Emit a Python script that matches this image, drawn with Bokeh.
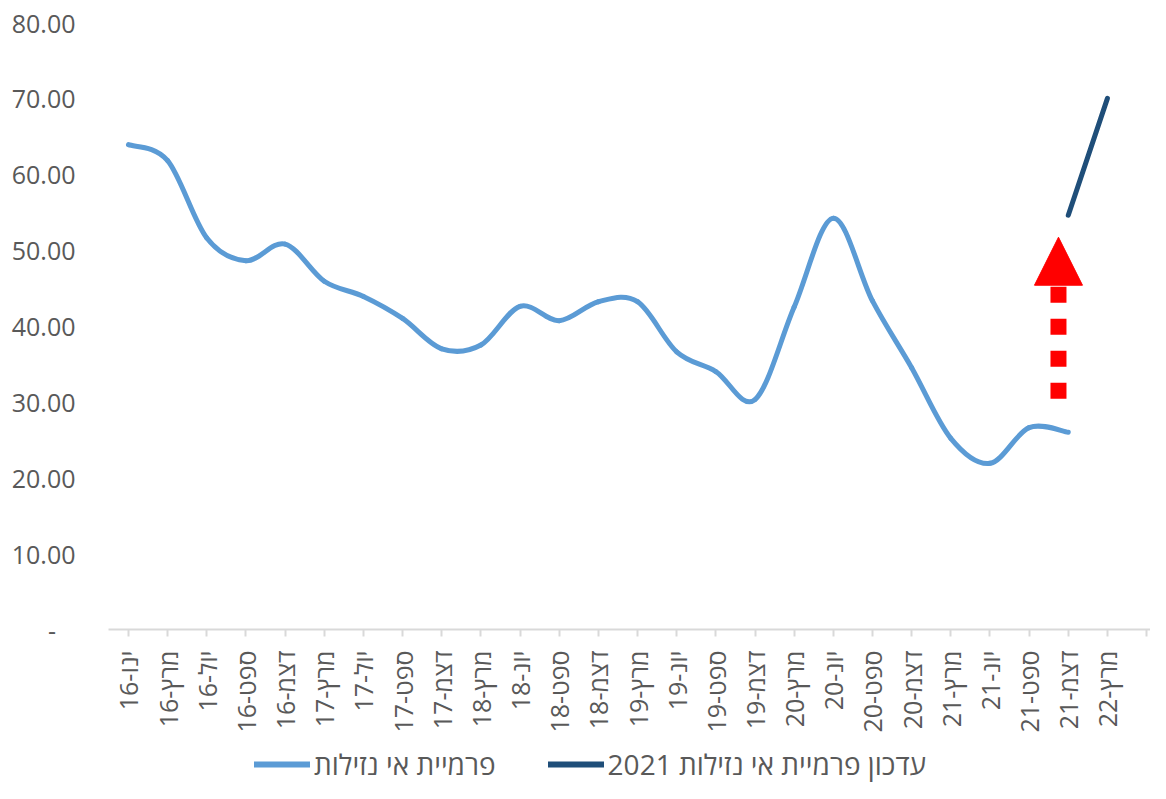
import math
from bokeh.plotting import figure
from bokeh.layouts import column
from bokeh.models import Legend, LegendItem, Arrow, NormalHead, FixedTicker, ColumnDataSource
from bokeh.embed import file_html
from bokeh.resources import INLINE

# ---- data ----
categories = ["16-ינו", "16-מרץ", "16-יול", "16-ספט", "16-דצמ",
              "17-מרץ", "17-יול", "17-ספט", "17-דצמ",
              "18-מרץ", "18-יונ", "18-ספט", "18-דצמ",
              "19-מרץ", "19-יונ", "19-ספט", "19-דצמ",
              "20-מרץ", "20-יונ", "20-ספט", "20-דצמ",
              "21-מרץ", "21-יונ", "21-ספט", "21-דצמ",
              "22-מרץ"]
premium = [63.9, 61.8, 51.6, 48.6, 50.8, 45.9, 43.9, 41.0, 37.0, 37.5, 42.6, 40.7, 43.2,
           43.2, 36.6, 34.0, 30.3, 42.5, 54.2, 43.3, 34.5, 25.2, 21.9, 26.6, 26.0]
update_2021 = [54.6, 70.0]
update_idx = [24, 25]
y_ticks = [0, 10, 20, 30, 40, 50, 60, 70, 80]
arrow_x = 23.75
arrow_from = 30.4
arrow_to = 51.7

series1_label = "פרמיית אי נזילות"
series2_label = "2021 עדכון פרמיית אי נזילות"

FONT = "Open Sans"
GRAY = "#595959"
LIGHT = "#5B9BD5"
DARK = "#1F4E79"

p = figure(width=1150, height=745, output_backend="svg", toolbar_location=None,
           x_range=(-0.51, 26.10), y_range=(0, 80),
           min_border_left=108, min_border_right=0, min_border_top=22,
           min_border_bottom=116)
p.outline_line_color = None
p.background_fill_color = "white"
p.border_fill_color = "white"
p.xgrid.grid_line_color = None
p.ygrid.grid_line_color = None

# smooth line (Excel-like smoothing through the data points)
xs = list(range(len(premium)))
n = len(premium)
x0, y0, x1, y1, cx0, cy0, cx1, cy1 = [], [], [], [], [], [], [], []
for i in range(n - 1):
    xm1, ym1 = (xs[i - 1], premium[i - 1]) if i > 0 else (xs[i], premium[i])
    xp2, yp2 = (xs[i + 2], premium[i + 2]) if i + 2 < n else (xs[i + 1], premium[i + 1])
    x0.append(xs[i]); y0.append(premium[i])
    x1.append(xs[i + 1]); y1.append(premium[i + 1])
    cx0.append(xs[i] + (xs[i + 1] - xm1) / 6.0)
    cy0.append(premium[i] + (premium[i + 1] - ym1) / 6.0)
    cx1.append(xs[i + 1] - (xp2 - xs[i]) / 6.0)
    cy1.append(premium[i + 1] - (yp2 - premium[i]) / 6.0)
src = ColumnDataSource(dict(x0=x0, y0=y0, x1=x1, y1=y1, cx0=cx0, cy0=cy0, cx1=cx1, cy1=cy1))
p.bezier(x0="x0", y0="y0", x1="x1", y1="y1", cx0="cx0", cy0="cy0", cx1="cx1", cy1="cy1",
         source=src, line_color=LIGHT, line_width=5, line_cap="round")

p.line(x=update_idx, y=update_2021, line_color=DARK, line_width=5, line_cap="round")

# red dashed arrow
arr = Arrow(end=NormalHead(size=48, fill_color="red", line_color="red", line_width=1),
            x_start=arrow_x, y_start=arrow_from, x_end=arrow_x, y_end=arrow_to,
            line_color="red", line_width=16, line_dash="16 16", line_cap="butt")
p.add_layout(arr)

# axes
xa = p.xaxis[0]
xa.ticker = FixedTicker(ticks=list(range(27)))
xa.major_label_overrides = {i: c for i, c in enumerate(categories)}
xa.major_label_overrides[26] = ""
xa.major_label_orientation = math.pi / 2
xa.axis_line_color = "#d9d9d9"
xa.axis_line_width = 2
xa.major_tick_line_color = "#d9d9d9"
xa.major_tick_line_width = 2
xa.major_tick_in = 0
xa.major_tick_out = 7
xa.minor_tick_line_color = None
xa.major_label_text_font = FONT
xa.major_label_text_font_size = "25px"
xa.major_label_text_color = GRAY
xa.major_label_standoff = 14

ya = p.yaxis[0]
ya.ticker = FixedTicker(ticks=y_ticks)
ya.major_label_overrides = {t: ("-\u00a0\u00a0\u00a0" if t == 0 else f"{t:.2f}") for t in y_ticks}
ya.axis_line_color = None
ya.major_tick_line_color = None
ya.minor_tick_line_color = None
ya.major_label_text_font = FONT
ya.major_label_text_font_size = "25px"
ya.major_label_text_color = GRAY
ya.major_label_standoff = 27

# legend strip (separate figure under the chart)
lg = figure(width=1150, height=38, output_backend="svg", toolbar_location=None,
            x_range=(0, 1), y_range=(0, 1), x_axis_location=None, y_axis_location=None,
            min_border=0)
lg.outline_line_color = None
lg.xgrid.grid_line_color = None
lg.ygrid.grid_line_color = None
# single-point lines: nothing drawn in the strip, used for the legend swatches
r1 = lg.line(x=[0], y=[0], line_color=LIGHT, line_width=6, line_cap="round")
r2 = lg.line(x=[0], y=[0], line_color=DARK, line_width=6, line_cap="round")
legend = Legend(items=[LegendItem(label=series1_label, renderers=[r1]),
                       LegendItem(label=series2_label, renderers=[r2])],
                orientation="horizontal", location=(146, 0),
                label_text_font=FONT, label_text_font_size="28px", label_text_color=GRAY,
                glyph_width=56, glyph_height=26, spacing=52, label_standoff=4,
                padding=0, margin=0, border_line_color=None, background_fill_alpha=0)
lg.add_layout(legend, "center")

layout = column(p, lg, spacing=0)
open("out.html", "w").write(file_html(layout, INLINE))
